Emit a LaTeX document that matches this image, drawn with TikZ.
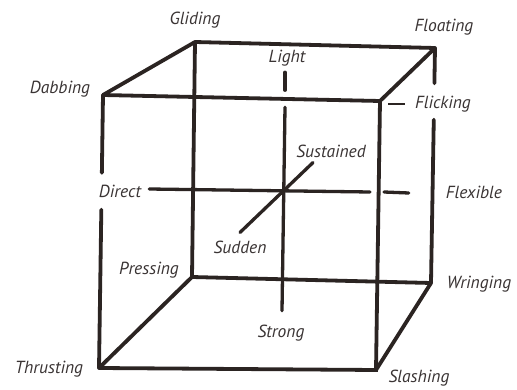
\documentclass[tikz,border=0pt]{standalone}
\usepackage{fontspec}
\setmainfont{PT Sans}
\usepackage{tikz}
\usetikzlibrary{positioning, calc}

\definecolor{ink}{HTML}{2B2422}
\definecolor{lbl}{HTML}{3A3434}

\begin{document}
\begin{tikzpicture}[x=1pt, y=-1pt, line cap=round,
    edge/.style={draw=ink, line width=3.8pt},
    axis/.style={draw=ink, line width=3.3pt},
    lab/.style={text=lbl, font=\fontsize{17.5}{19}\selectfont\itshape, inner sep=0pt}]

        \useasboundingbox[fill=white] (0,0) rectangle (517,390);

        % Corners of the cube
        \coordinate (glid) at (195,42);
        \coordinate (float) at (435,48);
        \coordinate (dab) at (103,95);
        \coordinate (flick) at (380,101);
        \coordinate (press) at (192,277);
        \coordinate (wring) at (431,283);
        \coordinate (thrust) at (99,368);
        \coordinate (slash) at (376,370);

        % Corner labels
        \node[lab] (lglid) at (195,20) {Gliding};
        \node[lab] (lfloat) at (444,27) {Floating};
        \node[lab] (ldab) at (60,89) {Dabbing};
        \node[lab] (lflick) at (443,104) {Flicking};
        \node[lab] (lpress) at (149,270) {Pressing};
        \node[lab] (lwring) at (479,284) {Wringing};
        \node[lab] (lthrust) at (49,369) {Thrusting};
        \node[lab] (lslash) at (419,378) {Slashing};

        % Axis labels
        \node[lab] (light) at (287,58) {Light};
        \node[lab] (strong) at (281,333) {Strong};
        \node[lab] (direct) at (120,191) {Direct};
        \node[lab] (flex) at (474,192) {Flexible};
        \node[lab] (sust) at (331,151) {Sustained};
        \node[lab] (sudd) at (240,247) {Sudden};

        % Back face
        \draw[edge] (glid) -- (float);
        \draw[edge] (glid) -- (press) -- (wring);
        \draw[edge] (float) -- ($(float)!0.15!(wring)$);
        \draw[edge] ($(float)!0.305!(wring)$) -- (wring);

        % Front face
        \draw[edge] (dab) -- (flick) -- (slash) -- (thrust);
        \draw[edge] (dab) -- ($(dab)!0.285!(thrust)$);
        \draw[edge] ($(dab)!0.42!(thrust)$) -- (thrust);

        % Side edges
        \draw[edge] (glid) -- (dab);
        \draw[edge] (float) -- (flick);
        \draw[edge] (press) -- (thrust);
        \draw[edge] (wring) -- (slash);

        % Leader to Flicking
        \draw[draw=ink, line width=1.4pt, line cap=butt] ($(lflick.west)+(-27,0)$) -- ($(lflick.west)+(-10,0)$);

        % Light -- Strong
        \draw[axis] ($(light.south)+(-2,6)$) -- ($(light.south)+(-2,24)$);
        \draw[axis] ($(light.south)+(-2,41)$) -- ($(strong.north)+(1,-14)$);

        % Direct -- Flexible
        \draw[axis] ($(direct.east)+(8,-2)$) -- (370,192);
        \draw[axis] (384,192) -- ($(flex.west)+(-37,1)$);

        % Sustained -- Sudden
        \draw[axis] ($(sust.south)+(-18,5)$) -- ($(sudd.north)+(0,-8)$);

\end{tikzpicture}
\end{document}
